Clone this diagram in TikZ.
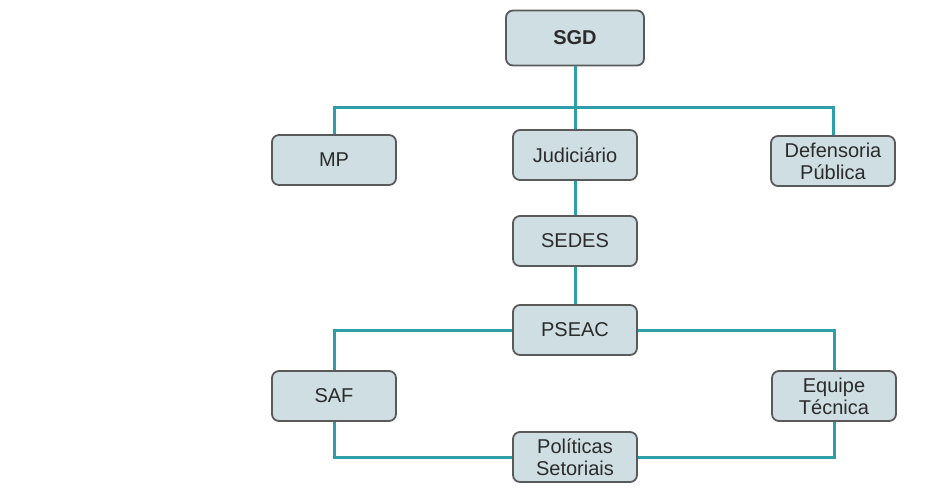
\documentclass[tikz,border=0pt]{standalone}
\usepackage{fontspec}
\setmainfont{Liberation Sans}
\usetikzlibrary{positioning}
\definecolor{boxfill}{HTML}{CEDEE3}
\definecolor{boxline}{HTML}{5A5A5A}
\definecolor{linkcol}{HTML}{2E9EA8}
\definecolor{txtcol}{HTML}{2B2B2B}
\tikzset{
  box/.style={rectangle, rounded corners=7pt, minimum width=124pt, minimum height=50pt, text centered, align=center, draw=boxline, line width=1.8pt, fill=boxfill, text=txtcol, font=\fontsize{20}{22}\selectfont, inner sep=1pt},
  topbox/.style={box, minimum width=138pt, minimum height=55pt, font=\fontsize{20}{22}\selectfont\bfseries},
  link/.style={draw=linkcol, line width=3pt},
  node distance=7mm
}
\begin{document}
\begin{tikzpicture}[x=1pt, y=-1pt]
	\fill[white] (0,0) rectangle (932,498);
	\useasboundingbox (0,0) rectangle (932,498);
	% first level
	\node[topbox] (sgd) at (575,38) {SGD};
	\coordinate (bar) at (575,107);
	\node[box] (jud) at (575,155) {Judiciário};
	\node[box] (mp) at (334,160) {MP};
	\node[box] (dp) at (833,161) {Defensoria\\Pública};
	\draw[link] (sgd) -- (jud);
	\draw[link] (mp) |- (bar) -| (dp);
	% second level
	\node[box] (sedes) at (575,241) {SEDES};
	\node[box] (pseac) at (575,330) {PSEAC};
	\node[box] (saf) at (334,396) {SAF};
	\node[box] (eq) at (834,396) {Equipe\\Técnica};
	\node[box] (pol) at (575,457) {Políticas\\Setoriais};
	\draw[link] (jud) -- (sedes);
	\draw[link] (sedes) -- (pseac);
	\draw[link] (pseac) -| (saf);
	\draw[link] (pseac) -| (eq);
	\draw[link] (saf) |- (pol);
	\draw[link] (eq) |- (pol);
\end{tikzpicture}
\end{document}
